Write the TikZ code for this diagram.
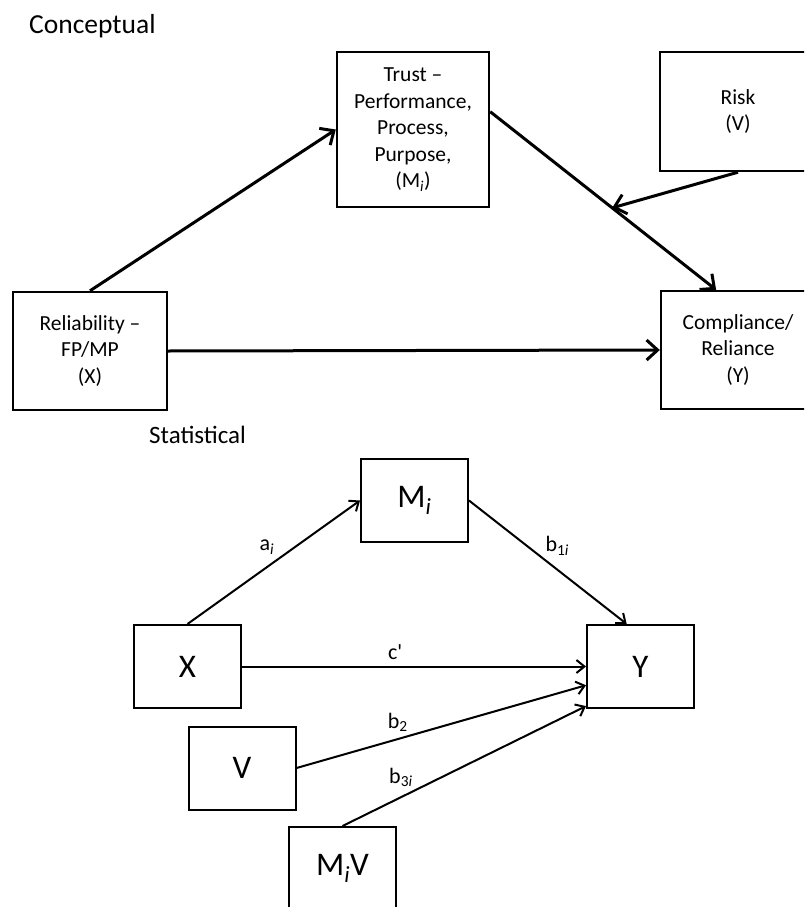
\documentclass[tikz,border=0pt]{standalone}
\usepackage{fontspec}
\setmainfont{Carlito}
\usetikzlibrary{arrows.meta,calc}

\begin{document}
\begin{tikzpicture}[x=1pt,y=-1pt,
  concept/.style={draw,line width=2.4pt,align=center,inner sep=0pt,font=\fontsize{21.5}{26.5}\selectfont},
  stat/.style={draw,line width=2pt,minimum width=107pt,minimum height=83pt,inner sep=0pt,font=\fontsize{33}{38}\selectfont},
  thickarrow/.style={line width=3pt,-{Straight Barb[length=11pt,width=20pt]}},
  thinarrow/.style={line width=2pt,-{Straight Barb[length=8pt,width=13pt]}},
  coef/.style={inner sep=0pt,font=\fontsize{22}{26}\selectfont},
  heading/.style={anchor=base west,inner sep=0pt}]
\clip (0,0) rectangle (804,907);

\node[heading,font=\fontsize{27.5}{32}\selectfont] (concepttitle) at (29,34) {Conceptual};
\node[concept,minimum width=152pt,minimum height=155pt] (trust) at (413,129.5) {Trust --\\Performance,\\Process,\\Purpose,\\(M\textsubscript{\textit{i}})};
\node[concept,minimum width=156pt,minimum height=119pt] (risk) at (738,111.5) {Risk\\(V)};
\node[concept,minimum width=154pt,minimum height=118pt] (reliab) at (90,351) {Reliability --\\FP/MP\\(X)};
\node[concept,minimum width=154pt,minimum height=118pt] (comply) at (738,350) {Compliance/\\Reliance\\(Y)};
\coordinate (meet) at ($(trust.13)!0.54!(comply.110)$);
\draw[thickarrow] (reliab.north) -- (trust.west);
\draw[thickarrow] (trust.13) -- (comply.110);
\draw[thickarrow] (risk.south) -- (meet);
\draw[thickarrow] (reliab.east) -- (comply.west);

\node[heading,font=\fontsize{25}{30}\selectfont] (stattitle) at (149,443) {Statistical};
\node[stat] (m) at (414.5,500.5) {M\textsubscript{\textit{i}}};
\node[stat] (x) at (187.5,666.5) {X};
\node[stat] (y) at (640.5,666.5) {Y};
\node[stat] (v) at (242,768) {V};
\node[stat] (mv) at (342.5,868.5) {M\textsubscript{\textit{i}}V};
\draw[thinarrow] (x.north) -- node[coef,pos=.46,yshift=20pt]{a\textsubscript{\textit{i}}} (m.west);
\draw[thinarrow] (m.east) -- node[coef,pos=.56,yshift=24pt]{b\textsubscript{1\textit{i}}} (y.108);
\draw[thinarrow] (x.east) -- node[coef,pos=.445,yshift=14pt]{c\textquotesingle} (y.west);
\draw[thinarrow] (v.east) -- node[coef,pos=.35,yshift=17pt]{b\textsubscript{2}} (y.199);
\draw[thinarrow] (mv.north) -- node[coef,pos=.24,yshift=20pt]{b\textsubscript{3\textit{i}}} (y.216);
\end{tikzpicture}
\end{document}
